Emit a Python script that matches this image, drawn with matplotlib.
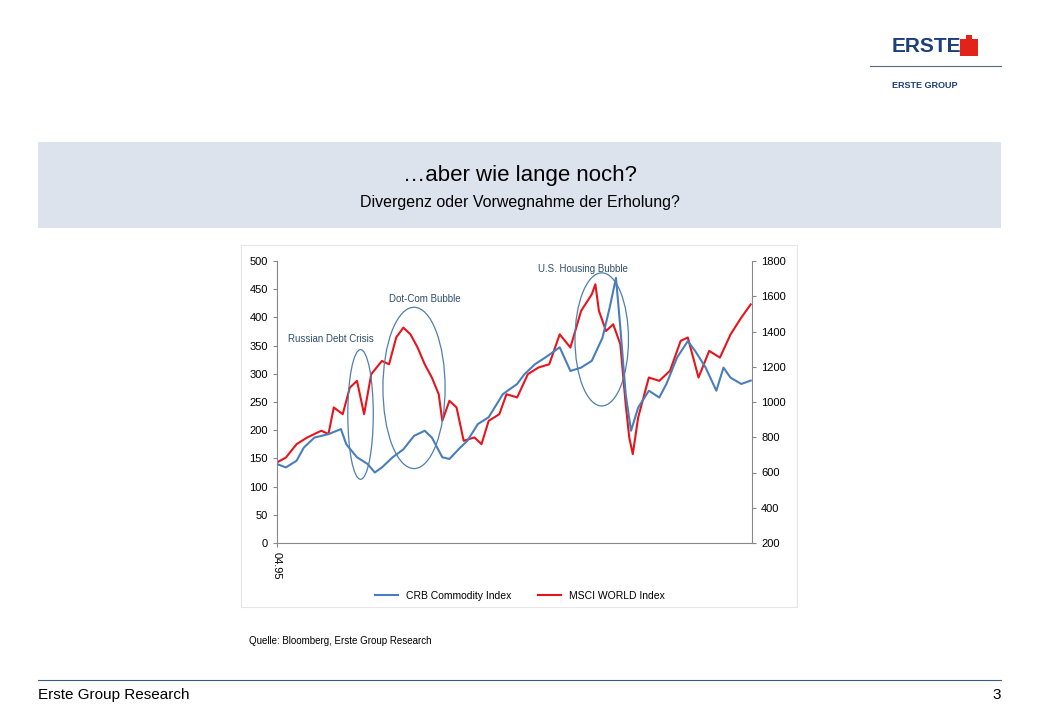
import matplotlib
matplotlib.use("Agg")
import matplotlib.pyplot as plt
from matplotlib.patches import Ellipse, Rectangle
from matplotlib.lines import Line2D

plt.rcParams["font.family"] = "Liberation Sans"

crb_years = [1995.25,1995.60,1996.02,1996.30,1996.72,1997.27,1997.76,1997.97,1998.39,1998.81,1999.09,1999.37,1999.79,
             2000.21,2000.63,2001.05,2001.33,2001.74,2002.02,2002.44,2002.72,2003.14,2003.56,2004.12,2004.68,2004.96,
             2005.38,2005.79,2006.35,2006.77,2007.19,2007.61,2008.03,2008.31,2008.56,2008.73,2008.94,2009.15,2009.43,
             2009.85,2010.26,2010.54,2010.96,2011.38,2011.66,2012.08,2012.50,2012.78,2013.06,2013.48,2013.85]
crb_values = [140,134,146,169,187,193,202,175,152,140,125,134,152,166,190,199,187,152,149,169,181,211,223,264,282,299,
              317,329,347,305,311,323,364,417,470,382,264,199,240,270,258,282,329,358,341,311,270,311,293,282,288]

msci_years = [1995.25,1995.60,1996.02,1996.44,1996.99,1997.27,1997.48,1997.83,1998.11,1998.39,1998.67,1998.95,1999.37,
              1999.65,1999.93,2000.21,2000.49,2000.77,2001.05,2001.33,2001.60,2001.74,2002.02,2002.30,2002.58,2003.00,
              2003.28,2003.56,2003.98,2004.26,2004.68,2005.10,2005.52,2005.94,2006.35,2006.77,2007.19,2007.61,2007.75,
              2007.89,2008.17,2008.45,2008.73,2008.94,2009.08,2009.22,2009.43,2009.85,2010.26,2010.68,2011.10,2011.38,
              2011.80,2012.22,2012.64,2013.06,2013.48,2013.85]
msci_values = [657,685,761,799,837,818,969,931,1082,1120,931,1158,1233,1214,1366,1422,1384,1309,1214,1139,1044,893,
               1007,969,780,799,761,893,931,1044,1026,1158,1196,1214,1384,1309,1517,1611,1668,1517,1403,1441,1328,988,
               799,704,912,1139,1120,1177,1347,1366,1139,1290,1252,1384,1479,1554]

left_ticks = [0,50,100,150,200,250,300,350,400,450,500]
right_ticks = [200,400,600,800,1000,1200,1400,1600,1800]
x_label = "04.95"
series_names = ["CRB Commodity Index", "MSCI WORLD Index"]

BLUE = "#4a7ebb"
RED = "#e8141b"

fig = plt.figure(figsize=(10.4, 7.2), dpi=100)
W, H = 1040, 720
def fx(x): return x / W
def fy(y): return 1 - y / H

fig.patches.append(Rectangle((fx(38), fy(228)), fx(963), (228-142)/H, transform=fig.transFigure,
                             facecolor="#dde3ec", edgecolor="none", zorder=-5))
fig.text(0.5, fy(176), "…aber wie lange noch?", ha="center", va="center", fontsize=16)
fig.text(0.5, fy(203), "Divergenz oder Vorwegnahme der Erholung?", ha="center", va="center", fontsize=11.5)

fig.text(fx(892), fy(47), "ERSTE", ha="left", va="center", fontsize=15, fontweight="bold", color="#1d3f7a")
fig.patches.append(Rectangle((fx(960), fy(56)), fx(18), 17/H, transform=fig.transFigure,
                             facecolor="#e2231a", edgecolor="none", zorder=-5))
fig.patches.append(Rectangle((fx(966), fy(40)), fx(6), 5/H, transform=fig.transFigure,
                             facecolor="#e2231a", edgecolor="none", zorder=-5))
fig.lines.append(Line2D([fx(870), fx(1001)], [fy(66), fy(66)], transform=fig.transFigure, color="#5a6a7a", lw=0.8))
fig.text(fx(892), fy(85), "ERSTE GROUP", ha="left", va="center", fontsize=6.5, fontweight="bold", color="#1d3f7a")

fig.lines.append(Line2D([fx(38), fx(1001)], [fy(680), fy(680)], transform=fig.transFigure, color="#3d5a80", lw=0.8))
fig.text(fx(38), fy(695), "Erste Group Research", ha="left", va="center", fontsize=11)
fig.text(fx(1001), fy(695), "3", ha="right", va="center", fontsize=11)

fig.patches.append(Rectangle((fx(241), fy(607)), fx(556), (607-245)/H, transform=fig.transFigure,
                             facecolor="white", edgecolor="#e6e6e6", lw=0.8, zorder=-5))
fig.text(fx(249), fy(641), "Quelle: Bloomberg, Erste Group Research", ha="left", va="center", fontsize=7)

ax = fig.add_axes([fx(277), fy(543), fx(475), (543-261)/H])
ax2 = ax.twinx()
x0, x1 = 1995.25, 2013.9
ax.set_xlim(x0, x1)
ax.set_ylim(0, 500)
ax2.set_ylim(200, 1800)
ax.set_yticks(left_ticks)
ax2.set_yticks(right_ticks)
for a in (ax, ax2):
    for s in a.spines.values():
        s.set_visible(False)
    a.tick_params(labelsize=8, colors="#888888", length=3, labelcolor="black")
    a.patch.set_visible(False)
ax.spines["left"].set_visible(True); ax.spines["left"].set_color("#888888")
ax.spines["bottom"].set_visible(True); ax.spines["bottom"].set_color("#888888")
ax2.spines["right"].set_visible(True); ax2.spines["right"].set_color("#888888")
ax.set_xticks([x0]); ax.set_xticklabels([x_label], rotation=-90, fontsize=8)
ax2.set_zorder(1); ax.set_zorder(2)

l1, = ax.plot(crb_years, crb_values, color=BLUE, lw=1.5, zorder=3)
l2, = ax2.plot(msci_years, msci_values, color=RED, lw=1.5, zorder=2)

for cx, cy, w, h in [(1998.53, 228, 1.0, 230), (2000.63, 275, 2.44, 286), (2008.0, 361, 2.1, 236)]:
    ax.add_patch(Ellipse((cx, cy), w, h, fill=False, edgecolor="#4f7fae", lw=0.9, zorder=4))
for tx, ty, s in [(1995.67, 362, "Russian Debt Crisis"), (1999.65, 432, "Dot-Com Bubble"),
                  (2005.49, 486, "U.S. Housing Bubble")]:
    ax.text(tx, ty, s, fontsize=7, color="#2f4f6f", va="center", ha="left", zorder=5)

fig.legend([l1, l2], series_names, loc="center", bbox_to_anchor=(fx(520), fy(596)), ncol=2, frameon=False,
           fontsize=7.5, handlelength=2.2, columnspacing=2.5)

fig.savefig("out.png", dpi=100)
